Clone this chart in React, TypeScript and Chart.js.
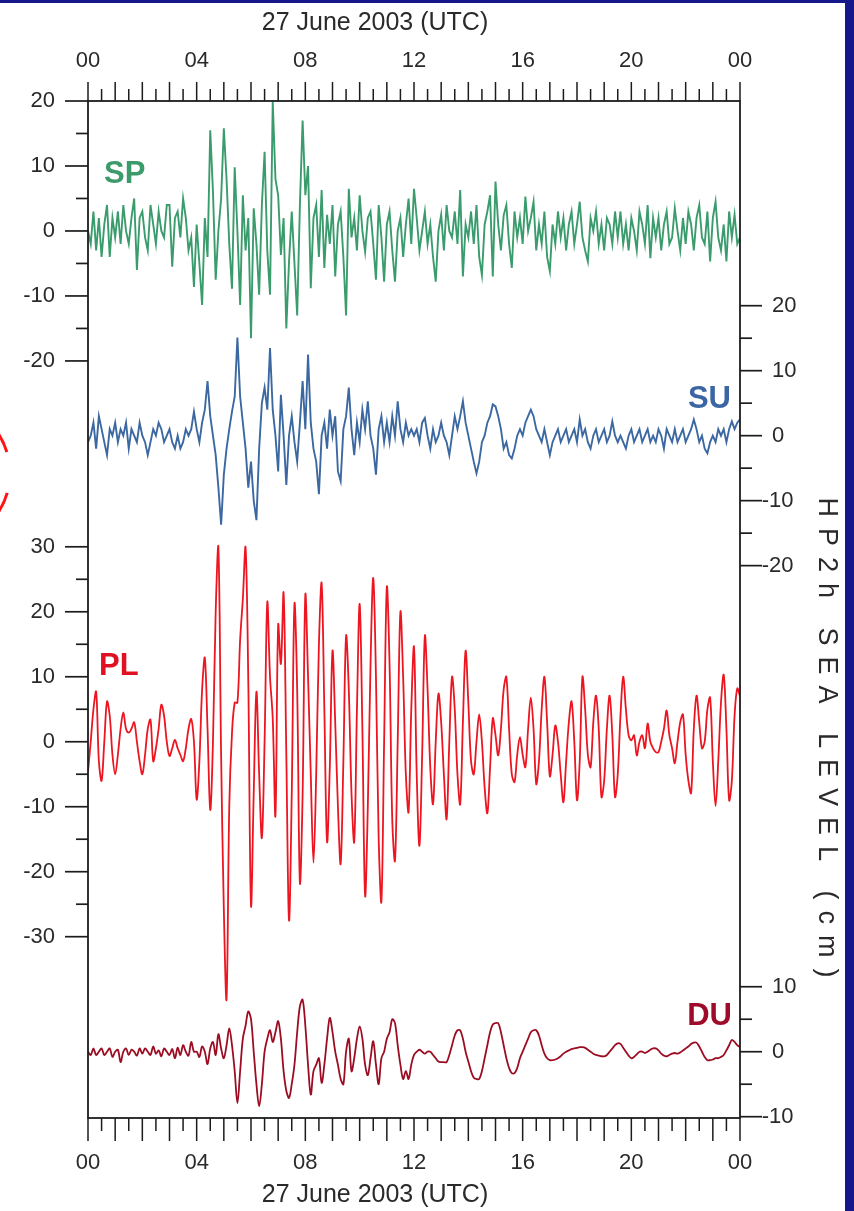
import { useEffect, useRef } from 'react';
import { Chart, registerables } from 'chart.js';

Chart.register(...registerables);

// ---------- time axis (hours of 27 June 2003, UTC) ----------
const TIME_STEP_H = 0.1;
const N_SAMPLES = 241;
const HOURS: number[] = Array.from({ length: N_SAMPLES }, (_, i) => Math.round(i * TIME_STEP_H * 10) / 10);
const X_TICK_HOURS = [0, 4, 8, 12, 16, 20, 24];
const X_TICK_LABELS = ['00', '04', '08', '12', '16', '20', '00'];
const X_MINOR_STEP_H = 0.5;
const X_TITLE = '27 June 2003 (UTC)';
const SIDE_TITLE = 'HP2h SEA LEVEL (cm)';

// ---------- series (HP2h sea level, cm), one value every 0.1 h ----------
const SP_VALUES = [
  0, -2, 3, -3, 2, -4, 1, 4, -4, 2,
  -1, 3, -2, 4, 0, -2, 2, 5, -6, 2,
  3, -1, -3, 4, 1, -2, 3, 0, -1, 4,
  4, -5.5, 2, 3, -1, 5, 2, -3, -1, -8.6,
  1, -5, -11.4, 2, -4, 15.5, 6, -7.5, 0, 5,
  15.8, 8, -2, -8.9, 9.8, 0, -11.4, 5.5, -3, 2,
  -16.5, 3.5, -2, -9.8, 4, 12.2, -3, -9.8, 19.9, 8,
  5.5, -3.7, 2, -15, -4.7, 3, -5, -13, 4, 17,
  5.5, 10, -8.8, 2, 4, -4, 6.3, -5.7, 2.5, -2,
  4, -7, 1, 3, -4, -13, 6.5, -1, 2, -3,
  5.5, 0, -3.2, 2, 3, -2, -7.5, 4, -1, -7.8,
  1, 3, -3, -7.8, 0, 2, -4, 1, 5, -2,
  6.5, 2, -3, 0, 3, -2, 1, -4, -7.8, 0,
  2.5, -3, 4, 0, -1, 3, -2, 6.3, -7, 1,
  -1, 3, -2, 4, -4, -6.8, 1, 3, 5.5, -7,
  7.6, 1, -3, 2.4, 4, -2, -5.7, 3, -1, 2,
  -2, 5.3, 0, 2, 4.5, -3, 1, -2, 3, -4,
  -6.2, 1, -2, 3, -1, 2, -3, 1, 3, -2,
  1, 4.5, -1, -3, -4.7, 2, 0, 3, -2, 1,
  -3, 2, 1, -2, 3, -1, 3, -2, 1, -3,
  2, 0, -3, 3, 1, -2, 4, -4.2, 2, -1,
  2, -3, 1, 3, -2, -1, 3.5, 0, -3, 2,
  -2, 3, 1, -3, 2, 4, -1, -2, 3, -4.7,
  2, 4.5, -1, -3, 1, -4.7, 3, -1, 2.5, -2,
  -1,
];

const SU_VALUES = [
  -1, 0, 2, -2, 3, 1, -1, -3, 1, 0,
  2, -1, 1, 0, 2, -2, 1, 0, -1, 2,
  0, -1, -3, -1, 1, 0, 2, 1, -1, 0,
  1, -1, -2, 0, -2, -1, 1, 0, 1, 3.7,
  1, -1, 2, 4, 8.4, 3, 0, -3, -8, -13.7,
  -6, -2, 1, 3.7, 6, 15.1, 6, 2, -2, -8,
  -4, -10, -13, -2, 5, 7.4, 4, 13.5, 4, 0,
  -5.5, 6.3, 0, -7.6, 0, 3, -1, -4, 2, 8.4,
  1, 12.5, 2, -2, -4, -9, 0, 2, -2, 4,
  0, 3, -5.5, -7, 1, 3, 7.4, 1, -3, 2,
  -1, 4, 1, 5.3, 0, -2, -6, 1, 3, -1,
  2, -1, 3, 0, 5.3, 1, -1, 2, 0, 1,
  0, 1, -1, 2, 2.7, 0, -2, 1, -1, 0,
  2, 0, -1, -3, 0, 3, 1, 3, 5.3, 2,
  0, -2, -4, -5.8, -4, -1, 0, 2, 3, 4.8,
  4.5, 3, 1, -2, -1, -3, -3.5, -2, 0, 1,
  0, 2, 3, 4, 3, 1, 0, -1, 1, -1,
  -3, -1, 0, 1, -1, 0, 1, -1, 0, 1,
  -1, 2.5, 0, 1, -1, -2, 0, 1, -1, 0,
  1, -1, 0, 2.2, 0, -1, 0, -1, -2, 0,
  1, -1, 0, 1, -1, 0, 1, -1, 0, -1,
  1, 0, -2, 1, 0, -1, 1, -1, 0, 1,
  -1, 0, 1, 2.5, 1, -1, 0, -2, -2.7, -1,
  0, -1, 1, 0, 1, -1, 1, 2.2, 1, 2,
  2.5,
];

const PL_VALUES = [
  -4.6, 0, 5, 7.7, -3, -6, 0, 6.2, 4, -2,
  -5, -2, 2, 4.5, 2, 1.4, 2, 3, 0, -3,
  -5, -2, 2, 3.4, -3, -1, 2, 5.7, 4, 0,
  -2.2, -1, 0.3, -1, -2, -3, -1, 2, 3.5, 0,
  -8.9, -3, 8, 12.9, 2, -10.5, 0, 20, 29.9, -2,
  -25.8, -39.6, -10, 1.3, 6, 6, 15.7, 22, 29.9, 9.4,
  -25.2, -7.9, 7.7, -5, -14.8, 0, 21.5, 10, 3.6, -11.4,
  18, 12, 22.9, -2, -27.5, -8, 21.2, 8, -21.7, -8,
  22.6, 10, -5, -18.6, -5, 15, 24.4, 5, -15.4, -4,
  14, 3, -10, -18.8, -3, 16.3, 8, -8, -15.4, 5,
  21.2, 2, -23.7, -10, 12, 25.2, 10, -15, -24.6, 0,
  23.8, 12, -12, -18.3, 0, 20, 10, -5, -10.8, 5,
  14.6, -5, -16, -2, 16.3, 8, -4, -9.6, 0, 7.4,
  3, -5, -11.9, 0, 10, 5, -5, -9.6, 3, 14,
  6, -3, -5, 0, 4.2, 0, -7, -11, -4, 3.6,
  1, -2.1, 2, 8, 10, 2, -5, -6.2, -2, 0.7,
  -2, -3.9, 2, 6.8, 2, -6.5, -3, 5, 10, 3,
  -5.3, -2, 2.5, 0, -5, -9.3, -3, 3, 6.2, 0,
  -9, -3, 10, 5, -2, -3.9, 3, 7.1, 2, -8.5,
  -6, 2, 7.1, 1, -8.5, -5, 4, 10, 5, 1,
  0.2, 1, -2.1, 0, 1, -1, 2.8, 0, -1, -1.6,
  -1.6, 0, 2, 4.8, 1, -1, -3.3, 0, 3, 4.2,
  -2, -6, -7.9, 2, 7.1, 3, -1, 0, 5, 6.8,
  -3, -9.9, -3, 6, 10.3, 2, -9, -6, 4, 8.2,
  7,
];

const DU_VALUES = [
  0, -0.5, 0.5, -0.5, 0, 0.5, -0.5, 0, 0.5, -0.8,
  0, 0.3, -1.6, 0, 0.5, -0.5, 0.3, 0, -0.6, 0.5,
  -0.3, 0.5, 0, -0.5, 0.8, -0.3, 0.2, -0.7, 0.5, 0,
  -0.5, 0.4, -1, 0.6, -0.5, 1, 0, -0.6, 1.5, 0,
  0, -0.8, 0.8, 0, -1.9, 0.5, 1.5, -0.5, 2.7, 0.5,
  -1, 1, 3.6, 1, -3, -7.9, -3, 2, 4, 6.2,
  5, 0, -5, -8.4, -5, 0, 2, 3.3, 1.5, 3,
  4.7, 2, -3, -6, -7.1, -5, -2, 3, 7, 8,
  4, -2, -6.6, -3, -2, -1, -4.8, -2, 2, 5.2,
  3, 0, -2, -4.2, -5, 0, 2, -3, -1, 2,
  3.9, 2, -2, -3.6, -1, 1.6, -2, -5, -1, 0,
  2, 3, 5, 4.4, 1, -2, -4.2, -3, -4.2, -2,
  -0.5, 0, 0.3, 0, -0.3, 0, 0, -0.5, -1, -1.5,
  -1.6, -1.6, -1.6, -0.5, 1, 2.5, 3.3, 3.3, 2, 0,
  -1.5, -3, -4, -4.2, -4.2, -3, -1, 1, 3, 4.2,
  4.4, 4.4, 3, 1, -1, -2.5, -3.3, -3.3, -2.5, -1,
  0, 1, 2, 3, 3.3, 3.3, 2.5, 1, -0.3, -1,
  -1.3, -1.3, -1.2, -1, -0.7, -0.3, 0, 0.2, 0.4, 0.5,
  0.6, 0.7, 0.7, 0.6, 0.3, 0, -0.3, -0.5, -0.6, -0.7,
  -0.7, -0.5, 0, 0.5, 1, 1.3, 1.2, 0.6, 0, -0.6,
  -1, -0.8, -0.4, 0, 0, -0.2, 0, 0.3, 0.5, 0.5,
  0.2, -0.3, -0.6, -0.7, -0.5, -0.3, -0.2, -0.3, -0.1, 0.2,
  0.5, 0.8, 1.2, 1.4, 1.4, 0.8, 0, -0.8, -1.3, -1.3,
  -1.2, -1, -1, -0.8, -0.5, 0.2, 1, 1.8, 1.5, 1,
  0.7,
];

// panel baselines on the shared stacked axis (cm)
const SP_OFFSET = 0;
const SU_OFFSET = -31.5;
const PL_OFFSET = -78.6;
const DU_OFFSET = -126.3;
const Y_MAX = 20;
const Y_MIN = -136.5;

// axis ticks of each panel (local cm)
const SP_TICKS = [20, 15, 10, 5, 0, -5, -10, -15, -20];
const PL_TICKS = [30, 25, 20, 15, 10, 5, 0, -5, -10, -15, -20, -25, -30];
const SU_TICKS = [20, 15, 10, 5, 0, -5, -10, -15, -20];
const DU_TICKS = [10, 5, 0, -5, -10];

// styles
const SP_COLOR = '#3a9c6c';
const SU_COLOR = '#3c68a2';
const PL_COLOR = '#ec1520';
const DU_COLOR = '#9c0c22';
const SP_LABEL_COLOR = '#3d9a6b';
const SU_LABEL_COLOR = '#3b66a3';
const PL_LABEL_COLOR = '#e01222';
const DU_LABEL_COLOR = '#a00a2a';
const AXIS_COLOR = '#1c1c1c';
const TEXT_COLOR = '#2a2a2a';
const BORDER_BLUE = '#17178c';
const FONT = '"Liberation Sans", Arial, Helvetica, sans-serif';

function buildPoints(values: number[], offset: number) {
  return values.map((v, i) => ({ x: HOURS[i], y: v + offset }));
}

const panelPlugin = {
  id: 'panelAxes',
  beforeDraw(chart: any) {
    const { ctx, width, height } = chart;
    ctx.save();
    ctx.fillStyle = '#ffffff';
    ctx.fillRect(0, 0, width, height);
    ctx.fillStyle = BORDER_BLUE;
    ctx.fillRect(845, 0, width - 845, height);
    ctx.fillRect(0, 0, width, 3);
    // red annotation arcs at left edge
    ctx.strokeStyle = '#ff1414';
    ctx.lineWidth = 3;
    ctx.beginPath();
    ctx.arc(-62, 473, 72, (-37 * Math.PI) / 180, (-17 * Math.PI) / 180);
    ctx.stroke();
    ctx.beginPath();
    ctx.arc(-62, 473, 72, (16 * Math.PI) / 180, (36 * Math.PI) / 180);
    ctx.stroke();
    ctx.restore();
  },
  afterDraw(chart: any) {
    const { ctx, chartArea: ca, scales } = chart;
    const xs = scales.x;
    const ys = scales.y;
    ctx.save();
    ctx.strokeStyle = AXIS_COLOR;
    ctx.lineWidth = 1.8;
    ctx.strokeRect(ca.left, ca.top, ca.right - ca.left, ca.bottom - ca.top);

    // time ticks, top and bottom
    ctx.lineWidth = 1.5;
    for (let h = 0; h <= 24 + 1e-9; h += X_MINOR_STEP_H) {
      const x = xs.getPixelForValue(h);
      const isHour = Math.abs(h - Math.round(h)) < 1e-6;
      const lenTop = isHour ? 19 : 12;
      const lenBot = isHour ? 23 : 13;
      ctx.beginPath();
      ctx.moveTo(x, ca.top);
      ctx.lineTo(x, ca.top - lenTop);
      ctx.moveTo(x, ca.bottom);
      ctx.lineTo(x, ca.bottom + lenBot);
      ctx.stroke();
    }
    ctx.fillStyle = TEXT_COLOR;
    ctx.font = `22px ${FONT}`;
    ctx.textAlign = 'center';
    ctx.textBaseline = 'middle';
    X_TICK_HOURS.forEach((h, i) => {
      const x = xs.getPixelForValue(h);
      ctx.fillText(X_TICK_LABELS[i], x, 61);
      ctx.fillText(X_TICK_LABELS[i], x, 1163);
    });
    ctx.font = `25px ${FONT}`;
    const cx = 375;
    ctx.fillText(X_TITLE, cx, 23);
    ctx.fillText(X_TITLE, cx, 1195);

    // left axis panels
    const drawLeft = (ticks: number[], offset: number) => {
      ticks.forEach((v) => {
        const y = ys.getPixelForValue(v + offset);
        const major = v % 10 === 0;
        ctx.lineWidth = 1.7;
        ctx.beginPath();
        ctx.moveTo(ca.left, y);
        ctx.lineTo(ca.left - (major ? 23 : 12), y);
        ctx.stroke();
        if (major) {
          ctx.font = `22px ${FONT}`;
          ctx.textAlign = 'right';
          ctx.textBaseline = 'middle';
          ctx.fillText(String(v), ca.left - 33, y);
        }
      });
    };
    const drawRight = (ticks: number[], offset: number) => {
      ticks.forEach((v) => {
        const y = ys.getPixelForValue(v + offset);
        const major = v % 10 === 0;
        ctx.lineWidth = 1.7;
        ctx.beginPath();
        ctx.moveTo(ca.right, y);
        ctx.lineTo(ca.right + (major ? 22 : 12), y);
        ctx.stroke();
        if (major) {
          ctx.font = `22px ${FONT}`;
          ctx.textAlign = 'left';
          ctx.textBaseline = 'middle';
          const s = String(v);
          const digitsX = ca.right + 32;
          if (v < 0) {
            const mw = ctx.measureText('-').width;
            ctx.fillText(s, digitsX - mw - 3, y);
          } else {
            ctx.fillText(s, digitsX, y);
          }
        }
      });
    };
    drawLeft(SP_TICKS, SP_OFFSET);
    drawLeft(PL_TICKS, PL_OFFSET);
    drawRight(SU_TICKS, SU_OFFSET);
    drawRight(DU_TICKS, DU_OFFSET);

    // series labels
    ctx.font = `bold 31px ${FONT}`;
    ctx.textBaseline = 'middle';
    ctx.textAlign = 'left';
    ctx.fillStyle = SP_LABEL_COLOR;
    ctx.fillText('SP', 104, 174);
    ctx.fillStyle = PL_LABEL_COLOR;
    ctx.fillText('PL', 99, 666);
    ctx.textAlign = 'right';
    ctx.fillStyle = SU_LABEL_COLOR;
    ctx.fillText('SU', 731, 399);
    ctx.fillStyle = DU_LABEL_COLOR;
    ctx.fillText('DU', 732, 1016);

    // rotated side title
    ctx.save();
    ctx.translate(826, 743);
    ctx.rotate(Math.PI / 2);
    ctx.fillStyle = TEXT_COLOR;
    ctx.font = `27px ${FONT}`;
    (ctx as any).letterSpacing = '11px';
    ctx.textAlign = 'center';
    ctx.textBaseline = 'middle';
    ctx.fillText(SIDE_TITLE, 0, 0);
    ctx.restore();

    ctx.restore();
  },
};

export default function App() {
  const canvasRef = useRef<HTMLCanvasElement | null>(null);

  useEffect(() => {
    if (!canvasRef.current) return;
    const chart = new Chart(canvasRef.current, {
      type: 'line',
      data: {
        datasets: [
          { label: 'SP', data: buildPoints(SP_VALUES, SP_OFFSET), borderColor: SP_COLOR, borderWidth: 1.9, tension: 0 },
          { label: 'SU', data: buildPoints(SU_VALUES, SU_OFFSET), borderColor: SU_COLOR, borderWidth: 1.9, tension: 0 },
          { label: 'PL', data: buildPoints(PL_VALUES, PL_OFFSET), borderColor: PL_COLOR, borderWidth: 1.8, tension: 0.35 },
          { label: 'DU', data: buildPoints(DU_VALUES, DU_OFFSET), borderColor: DU_COLOR, borderWidth: 1.8, tension: 0.35 },
        ],
      },
      options: {
        animation: false,
        responsive: false,
        maintainAspectRatio: false,
        parsing: false as any,
        layout: { padding: { left: 88, right: 114, top: 101, bottom: 93 } },
        plugins: { legend: { display: false }, tooltip: { enabled: false } },
        elements: { point: { radius: 0 } },
        scales: {
          x: { type: 'linear', min: 0, max: 24, display: false },
          y: { type: 'linear', min: Y_MIN, max: Y_MAX, display: false },
        },
      },
      plugins: [panelPlugin],
    });
    return () => chart.destroy();
  }, []);

  return (
    <div style={{ position: 'absolute', left: 0, top: 0, width: 854, height: 1211, background: '#ffffff' }}>
      <canvas ref={canvasRef} width={854} height={1211} style={{ display: 'block' }} />
    </div>
  );
}
